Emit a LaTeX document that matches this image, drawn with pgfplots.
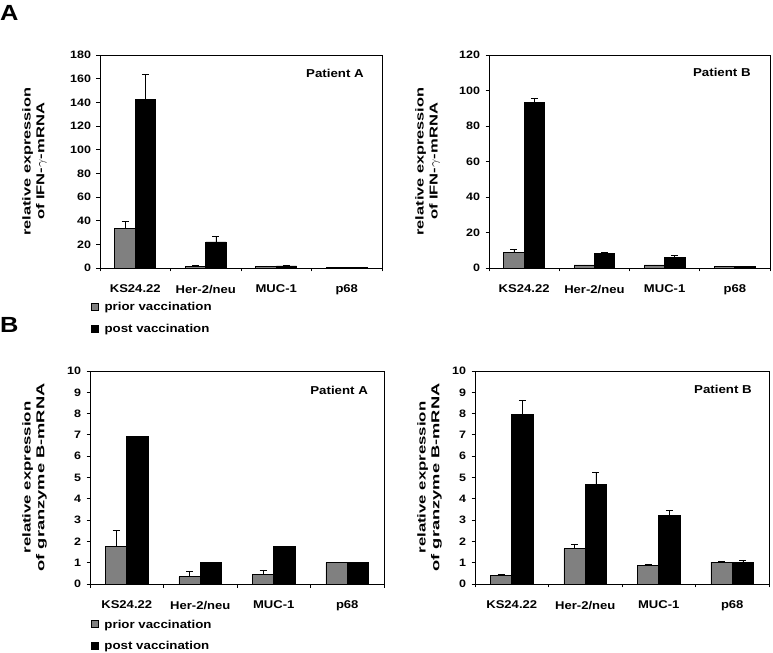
\documentclass[border=0pt]{standalone}
\usepackage{pgfplots}
\pgfplotsset{compat=1.18}
\usepackage{fontspec}
\setmainfont{Liberation Sans}[FakeStretch=1.16]
\definecolor{priorgray}{RGB}{128,128,128}

\tikzset{plab/.style={anchor=east, inner sep=0pt, font=\bfseries\fontsize{11.5}{13}\selectfont}}
\pgfplotsset{
  panel/.style={
    scale only axis, height=213bp, ymin=0,
    xmin=-0.5, xmax=3.5,
    xtick={-0.5,0.5,1.5,2.5,3.5},
    x tick label as interval,
    xticklabels={KS24.22,Her-2/neu,MUC-1,p68},
    tick align=outside, xtick pos=bottom, ytick pos=left,
    major tick length=3.5bp,
    axis line style={black, line width=0.8bp},
    every tick/.style={black, line width=0.8bp},
    /pgf/number format/assume math mode=true,
    tick label style={font=\bfseries\fontsize{10.8}{12}\selectfont},
    x tick label style={font=\bfseries\fontsize{11.3}{13}\selectfont, yshift=-10bp},
    y tick label style={xshift=-2bp},
    ylabel style={anchor=south, align=center, inner sep=0pt, font=\bfseries\fontsize{11.5}{14}\selectfont},
    legend style={draw=none, fill=none, inner sep=0pt, outer sep=0pt,
      font=\bfseries\fontsize{11.5}{13}\selectfont, row sep=12bp, column sep=6bp,
      nodes={inner sep=0pt, anchor=base west}},
    legend cell align=left,
  },
  mylegend/.style={legend image code/.code={\draw[#1, draw=black, line width=0.6bp] (0bp,0.3bp) rectangle (7bp,7.3bp);}},
  prior/.style={ybar, bar width=0.29, bar shift=0, fill=priorgray, draw=black, line width=0.8bp, mylegend,
    error bars/.cd, y dir=plus, y explicit, error bar style={black, line width=0.8bp},
    error mark options={rotate=90, black, mark size=3.5bp, line width=0.8bp}},
  post/.style={ybar, bar width=0.29, bar shift=0, fill=black, draw=black, line width=0.8bp, mylegend,
    error bars/.cd, y dir=plus, y explicit, error bar style={black, line width=0.8bp},
    error mark options={rotate=90, black, mark size=3.5bp, line width=0.8bp}},
}

\begin{document}
\begin{tikzpicture}
% Panel A, Patient A (IFN-gamma)
\begin{axis}[panel, at={(100bp,385bp)}, anchor=south west, width=282bp,
  ymax=180, ytick distance=20,
  ylabel={\resizebox{148bp}{8.3bp}{relative expression}\\\resizebox{117bp}{8.3bp}{of IFN-$\gamma$-mRNA}},
  ylabel style={at={(axis description cs:-0.188,0.5)}},
  legend style={at={(axis description cs:-0.032,-0.162)}, anchor=north west}]
\addplot[prior] coordinates {(-0.145,33.2) +- (0,6.2) (0.855,1.4) +- (0,1.0) (1.855,1.1) +- (0,0.6) (2.855,0.6) +- (0,0)};
\addplot[post] coordinates {(0.145,142.8) +- (0,20.4) (1.145,22) +- (0,4.7) (2.145,1.7) +- (0,0.7) (3.145,0.6) +- (0,0)};
\legend{prior vaccination, post vaccination}
\node[plab] at (rel axis cs:0.936,0.915) {Patient A};
\end{axis}
% Panel A, Patient B
\begin{axis}[panel, at={(489bp,385bp)}, anchor=south west, width=281bp,
  ymax=120, ytick distance=20,
  ylabel={\resizebox{148bp}{8.3bp}{relative expression}\\\resizebox{117bp}{8.3bp}{of IFN-$\gamma$-mRNA}},
  ylabel style={at={(axis description cs:-0.174,0.5)}}]
\addplot[prior] coordinates {(-0.145,8.8) +- (0,1.9) (0.855,1.7) +- (0,0) (1.855,1.7) +- (0,0) (2.855,1.1) +- (0,0)};
\addplot[post] coordinates {(0.145,93.4) +- (0,2.0) (1.145,8.1) +- (0,0.7) (2.145,6.0) +- (0,1.1) (3.145,1.1) +- (0,0)};
\node[plab] at (rel axis cs:0.932,0.92) {Patient B};
\end{axis}
% Panel B, Patient A (granzyme B)
\begin{axis}[panel, at={(90bp,69bp)}, anchor=south west, width=294bp,
  ymax=10, ytick distance=1,
  ylabel={\resizebox{152bp}{8.3bp}{relative expression}\\\resizebox{188bp}{8.3bp}{of granzyme B-mRNA}},
  ylabel style={at={(axis description cs:-0.146,0.5)}},
  legend style={at={(axis description cs:0.003,-0.168)}, anchor=north west}]
\addplot[prior] coordinates {(-0.145,1.78) +- (0,0.75) (0.855,0.34) +- (0,0.24) (1.855,0.45) +- (0,0.2) (2.855,1.0) +- (0,0)};
\addplot[post] coordinates {(0.145,6.92) +- (0,0) (1.145,1.0) +- (0,0) (2.145,1.78) +- (0,0) (3.145,1.0) +- (0,0)};
\legend{prior vaccination, post vaccination}
\node[plab] at (rel axis cs:0.946,0.911) {Patient A};
\end{axis}
% Panel B, Patient B
\begin{axis}[panel, at={(475bp,69bp)}, anchor=south west, width=294bp,
  ymax=10, ytick distance=1,
  ylabel={\resizebox{152bp}{8.3bp}{relative expression}\\\resizebox{188bp}{8.3bp}{of granzyme B-mRNA}},
  ylabel style={at={(axis description cs:-0.112,0.5)}}]
\addplot[prior] coordinates {(-0.145,0.4) +- (0,0.05) (0.855,1.65) +- (0,0.2) (1.855,0.88) +- (0,0.04) (2.855,1.03) +- (0,0.03)};
\addplot[post] coordinates {(0.145,7.94) +- (0,0.67) (1.145,4.66) +- (0,0.57) (2.145,3.2) +- (0,0.24) (3.145,1.03) +- (0,0.09)};
\node[plab] at (rel axis cs:0.942,0.915) {Patient B};
\end{axis}
\node[anchor=north west, inner sep=0pt, font=\bfseries\fontsize{22}{24}\selectfont] at (0bp,648bp) {A};
\node[anchor=north west, inner sep=0pt, font=\bfseries\fontsize{22}{24}\selectfont] at (0bp,336bp) {B};
\pgfresetboundingbox
\path[use as bounding box] (0,0) rectangle (773bp,653bp);
\end{tikzpicture}
\end{document}
